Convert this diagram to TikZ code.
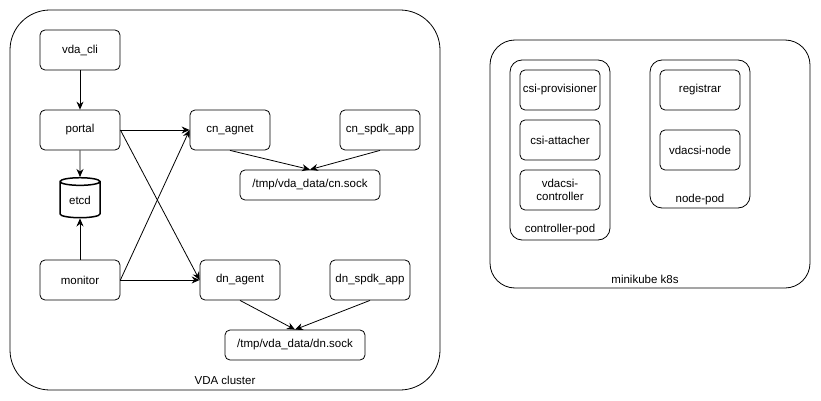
\documentclass[tikz,border=0pt]{standalone}
\usepackage{fontspec}
\setmainfont{Liberation Sans}
\usetikzlibrary{shapes.geometric,arrows.meta}
\begin{document}
\begin{tikzpicture}[x=1pt,y=-1pt,
  every node/.style={font=\fontsize{11.5}{13}\selectfont},
  bx/.style={draw,rounded corners=5pt,line width=0.8pt,minimum width=80pt,minimum height=40pt,inner sep=0pt,align=center},
  sk/.style={draw,rounded corners=5pt,line width=0.8pt,minimum width=140pt,minimum height=30pt,inner sep=0pt},
  ar/.style={-{Stealth[length=8pt,width=7pt]},line width=0.8pt}]
\useasboundingbox (0,0) rectangle (821,401);
% containers
\draw[line width=0.8pt,rounded corners=40pt] (10,10) rectangle (440,390);
\node (vdalbl) at (225,380) {VDA cluster};
\draw[line width=0.8pt,rounded corners=25pt] (490,40) rectangle (810,288);
\node (mklbl) at (645,279) {minikube k8s};
\draw[line width=0.8pt,rounded corners=12pt] (510,60) rectangle (610,240);
\node (cplbl) at (560,230) {controller-pod};
\draw[line width=0.8pt,rounded corners=12pt] (650,60) rectangle (750,208);
\node (nplbl) at (700,200) {node-pod};
% left nodes
\node[bx] (cli) at (80,50) {vda\_cli};
\node[bx] (portal) at (80,130) {portal};
\node[draw,cylinder,shape border rotate=90,aspect=0.35,line width=1.5pt,minimum width=40pt,minimum height=40pt,inner sep=0pt] (etcd) at (80,200) {etcd};
\node[bx] (monitor) at (80,280) {monitor};
\node[bx] (cn) at (230,130) {cn\_agnet};
\node[bx] (cnspdk) at (380,130) {cn\_spdk\_app};
\node[sk] (cnsock) at (310,185) {/tmp/vda\_data/cn.sock};
\node[bx] (dn) at (240,280) {dn\_agent};
\node[bx] (dnspdk) at (370,280) {dn\_spdk\_app};
\node[sk] (dnsock) at (295,345) {/tmp/vda\_data/dn.sock};
% right nodes
\node[bx] (prov) at (560,90) {csi-provisioner};
\node[bx] (att) at (560,140) {csi-attacher};
\node[bx] (ctrl) at (560,190) {vdacsi-\\controller};
\node[bx] (reg) at (700,90) {registrar};
\node[bx] (vnode) at (700,150) {vdacsi-node};
% arrows
\draw[ar] (cli) -- (portal);
\draw[ar] (portal) -- (etcd);
\draw[ar] (monitor) -- (etcd);
\draw[ar] (portal.east) -- (cn.west);
\draw[ar] (portal.east) -- (dn.west);
\draw[ar] (monitor.east) -- (cn.west);
\draw[ar] (monitor.east) -- (dn.west);
\draw[ar] (cn.south) -- (cnsock.north);
\draw[ar] (cnspdk.south) -- (cnsock.north);
\draw[ar] (dn.south) -- (dnsock.north);
\draw[ar] (dnspdk.south) -- (dnsock.north);
\end{tikzpicture}
\end{document}
